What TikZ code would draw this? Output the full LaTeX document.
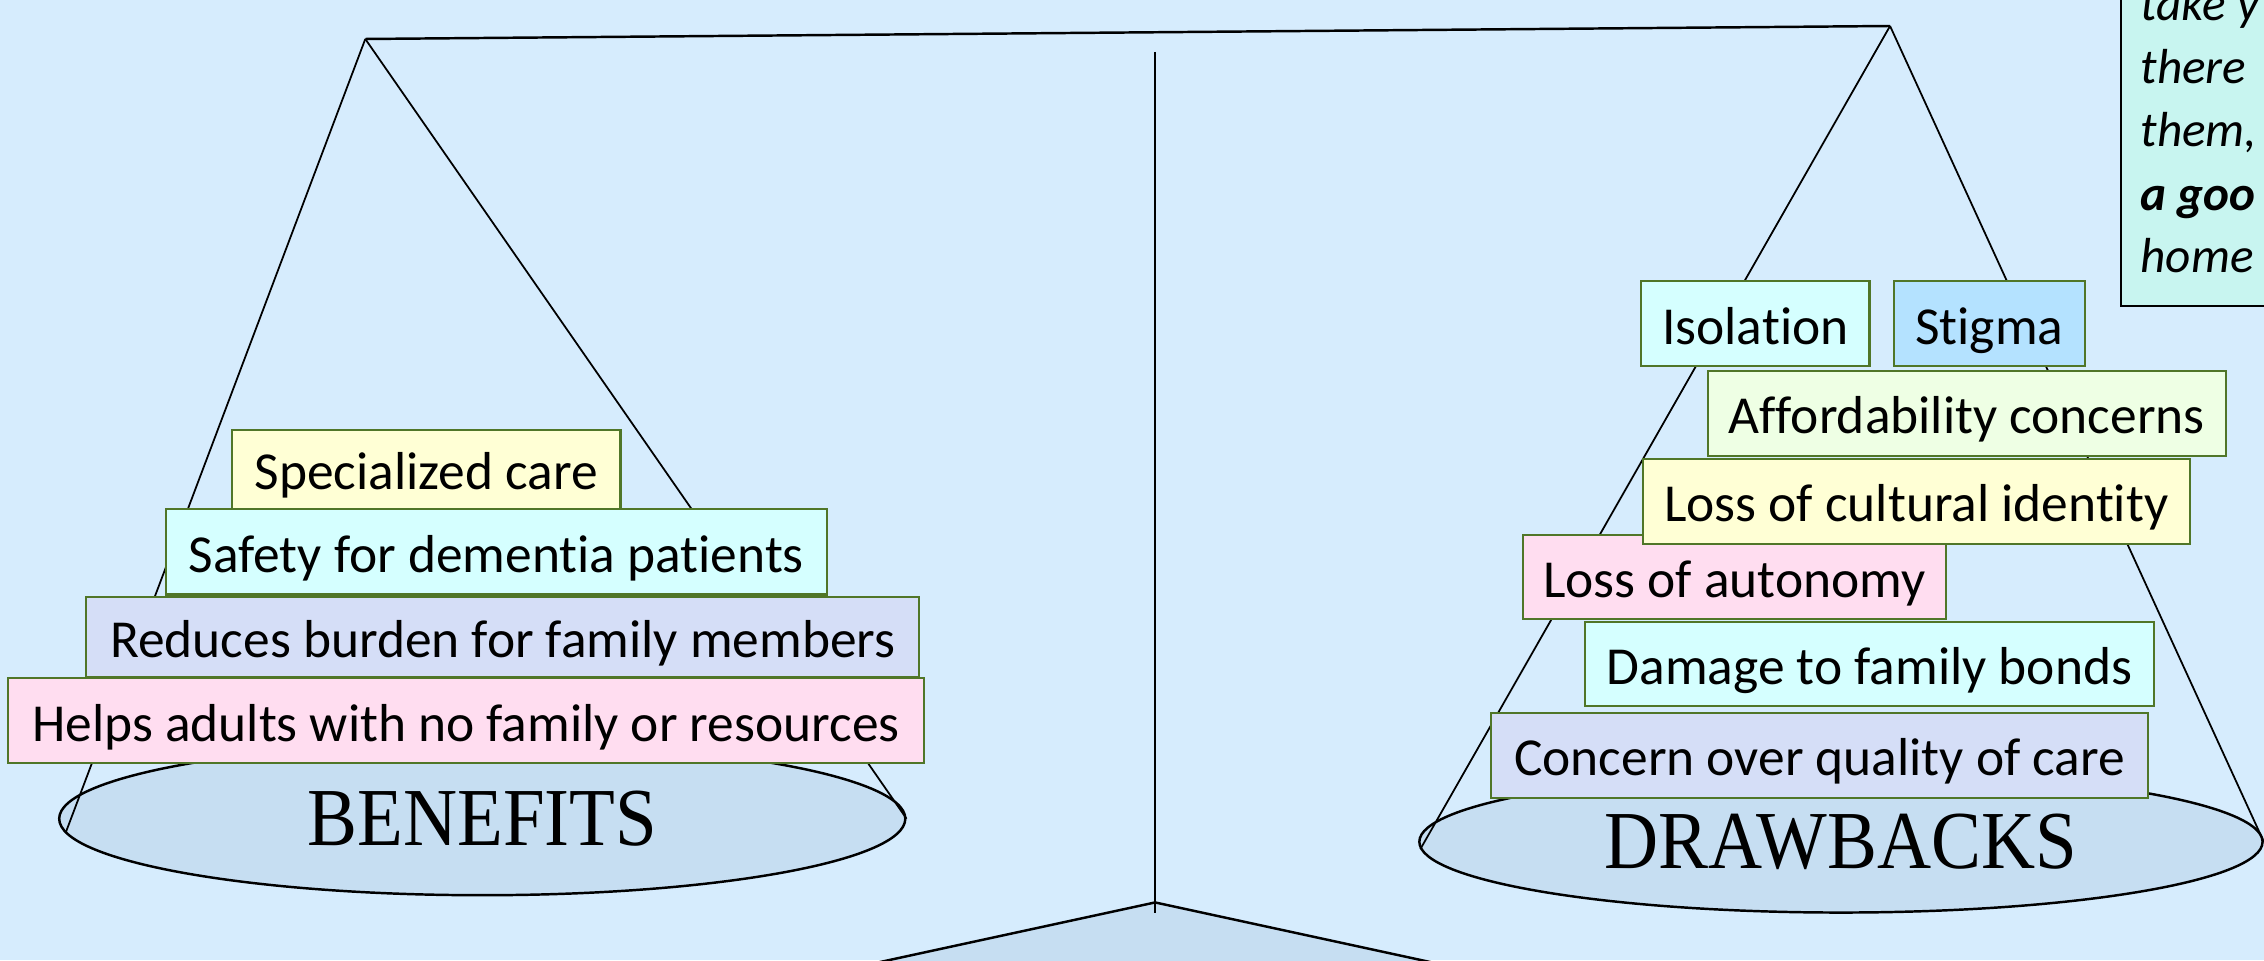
\documentclass[tikz,border=0pt]{standalone}
\usepackage{fontspec}
\setmainfont{Carlito}[Ligatures=NoCommon]
\newfontfamily\panfont{Liberation Serif}
\usetikzlibrary{shapes.geometric,positioning}

\definecolor{slide}{RGB}{214,236,253}
\definecolor{pan}{RGB}{198,222,242}
\definecolor{frame}{RGB}{80,118,40}
\definecolor{yel}{RGB}{255,255,213}
\definecolor{cya}{RGB}{213,255,255}
\definecolor{lav}{RGB}{213,222,247}
\definecolor{pnk}{RGB}{255,221,240}
\definecolor{sky}{RGB}{180,226,255}
\definecolor{grn}{RGB}{238,255,228}
\definecolor{note}{RGB}{200,245,240}

\tikzset{
  item/.style={draw=frame, line width=0.6pt, anchor=north west, inner sep=0pt,
    text height=12pt, text depth=0.4pt, font=\fontsize{15.2}{18}\selectfont},
  boxsize/.style 2 args={minimum width=#1*0.01444cm, minimum height=#2*0.01444cm},
  scalepan/.style={ellipse, draw, line width=0.7pt, fill=pan, inner sep=0pt,
    font=\panfont\fontsize{21.3}{26}\selectfont},
  cord/.style={line width=0.5pt},
  noteline/.style={anchor=base west, inner sep=0pt, font=\itshape\fontsize{14}{17}\selectfont}
}

\begin{document}
\begin{tikzpicture}[x=0.01444cm, y=-0.01444cm]
	\useasboundingbox (0,0) rectangle (1568,665);
	\clip (0,0) rectangle (1568,665);
	\fill[slide] (0,0) rectangle (1568,665);

	% stand
	\coordinate (apex) at (800,625);
	\coordinate (footL) at (560,677);
	\coordinate (footR) at (1040,677);
	\fill[pan] (footL) -- (apex) -- (footR) -- cycle;
	\draw[line width=0.7pt] (footL) -- (apex) -- (footR);
	\coordinate (poleTop) at (800,36);
	\coordinate (poleEnd) at (800,632);
	\draw[line width=0.5pt] (poleTop) -- (poleEnd);

	% beam
	\coordinate (hookL) at (253,27);
	\coordinate (hookR) at (1309,18);
	\draw[line width=0.7pt] (hookL) -- (hookR);

	% pans
	\node[scalepan, boxsize={586}{106}] (benefits) at (334,567) {\scalebox{1}[1.1]{BENEFITS}};
	\node[scalepan, boxsize={584}{98}] (drawbacks) at (1275,583) {\scalebox{1}[1.1]{DRAWBACKS}};
	\draw[cord] (hookL) -- (benefits.182);
	\draw[cord] (hookL) -- (benefits.0);
	\draw[cord] (hookR) -- (drawbacks.181);
	\draw[cord] (hookR) -- (drawbacks.0);

	% benefits
	\node[item, fill=yel, boxsize={269}{55}] (care) at (160,297) {Specialized care};
	\node[item, fill=cya, boxsize={458}{59}] (safety) at (114,352) {Safety for dementia patients};
	\node[item, fill=lav, boxsize={577}{55}] (burden) at (59,413) {Reduces burden for family members};
	\node[item, fill=pnk, boxsize={634}{59}] (helps) at (5,469) {Helps adults with no family or resources};

	% drawbacks
	\node[item, fill=cya, boxsize={158}{59}] (isolation) at (1136,194) {Isolation};
	\node[item, fill=sky, boxsize={132}{59}] (stigma) at (1311,194) {Stigma};
	\node[item, fill=grn, boxsize={359}{59}] (afford) at (1182,256) {Affordability concerns};
	\node[item, fill=pnk, boxsize={293}{58}] (autonomy) at (1054,370) {Loss of autonomy};
	\node[item, fill=yel, boxsize={379}{59}] (culture) at (1137,317) {Loss of cultural identity};
	\node[item, fill=cya, boxsize={394}{58}] (bonds) at (1097,430) {Damage to family bonds};
	\node[item, fill=lav, boxsize={455}{59}] (quality) at (1032,493) {Concern over quality of care};

	% note (cut off by the slide edge)
	\node[draw, fill=note, line width=0.6pt, anchor=north west, boxsize={132}{221}] (notebox) at (1468,-10) {};
	\node[noteline] (n1) at (1482,14) {take y};
	\node[noteline] (n2) at (1482,57.6) {there};
	\node[noteline] (n3) at (1482,101.6) {them,};
	\node[noteline] (n4) at (1482,145.6) {\bfseries a goo};
	\node[noteline] (n5) at (1482,189) {home};
\end{tikzpicture}
\end{document}
